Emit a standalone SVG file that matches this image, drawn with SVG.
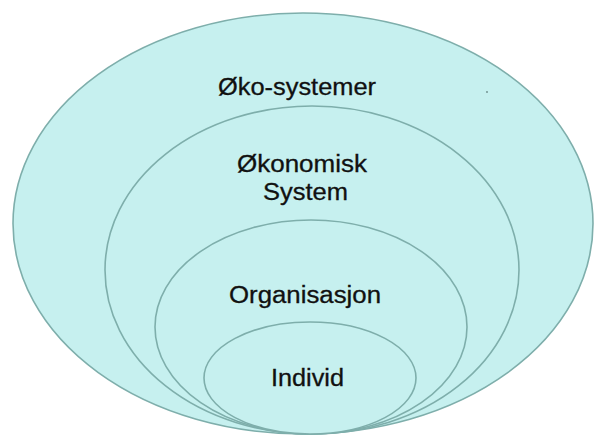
<svg xmlns="http://www.w3.org/2000/svg" width="596" height="437" viewBox="0 0 596 437">
<style>
.ring{fill:#c6f0ef;stroke:#7eaeab;stroke-width:1.6}
.lbl{font-family:"Liberation Sans",Arial,sans-serif;font-size:23px;fill:#111111;stroke:#111111;stroke-width:0.3;text-anchor:middle}
</style>
<rect width="596" height="437" fill="#ffffff"/>
<g id="okosystemer">
<ellipse class="ring" cx="303" cy="223.5" rx="290" ry="210.5"/>
<text class="lbl" x="297" y="95" textLength="158" lengthAdjust="spacingAndGlyphs">Øko-systemer</text>
</g>
<g id="okonomisk-system">
<ellipse class="ring" cx="312" cy="270" rx="207" ry="164"/>
<text class="lbl" x="302" y="172" textLength="130" lengthAdjust="spacingAndGlyphs">Økonomisk</text>
<text class="lbl" x="305.5" y="200" textLength="85" lengthAdjust="spacingAndGlyphs">System</text>
</g>
<g id="organisasjon">
<ellipse class="ring" cx="311" cy="327" rx="156" ry="107"/>
<text class="lbl" x="305" y="303" textLength="152" lengthAdjust="spacingAndGlyphs">Organisasjon</text>
</g>
<g id="individ">
<ellipse class="ring" cx="310" cy="378" rx="106" ry="56"/>
<text class="lbl" x="307.5" y="386" textLength="73" lengthAdjust="spacingAndGlyphs">Individ</text>
</g>
<g id="connectors"></g>
<circle cx="487" cy="92" r="0.9" fill="#6a8a88"/>
</svg>
